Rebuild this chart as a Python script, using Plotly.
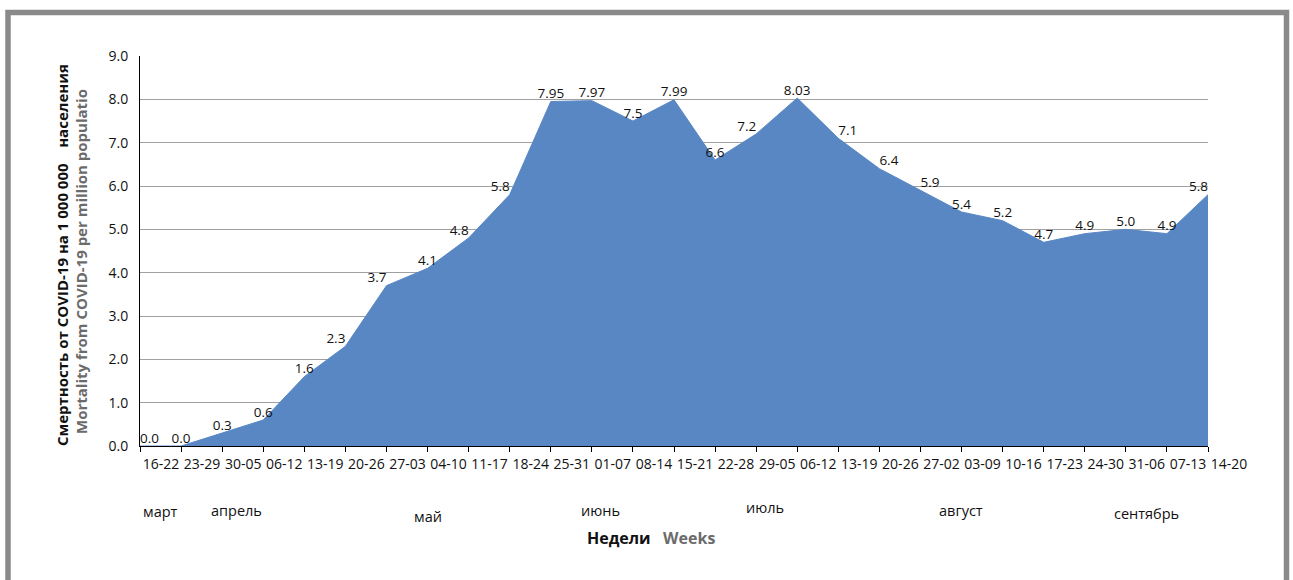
import plotly.graph_objects as go

# ---- data ----
weeks = ["16-22", "23-29", "30-05", "06-12", "13-19", "20-26", "27-03", "04-10",
         "11-17", "18-24", "25-31", "01-07", "08-14", "15-21", "22-28", "29-05",
         "06-12", "13-19", "20-26", "27-02", "03-09", "10-16", "17-23", "24-30",
         "31-06", "07-13", "14-20"]
mortality = [0.0, 0.0, 0.3, 0.6, 1.6, 2.3, 3.7, 4.1, 4.8, 5.8, 7.95, 7.97, 7.5,
             7.99, 6.6, 7.2, 8.03, 7.1, 6.4, 5.9, 5.4, 5.2, 4.7, 4.9, 5.0, 4.9, 5.8]
months = ["март", "апрель", "май", "июнь", "июль", "август", "сентябрь"]

# ---- layout helpers (pixel geometry of the reference) ----
W, H = 1293, 580
PL, PR, PT, PB = 140, 1208, 56, 446          # plot area in px
def px_x(px):
    return (px - PL) / (PR - PL)
def px_y(py):
    return (PB - py) / (PB - PT)

month_pos = [0.49, 2.36, 7.01, 11.22, 15.21, 19.99, 24.51]   # in week-index units
month_ypx = [511, 510, 516, 510, 508, 510, 513]

label_pos = ["top right", "top center", "top center", "top center", "top center",
             "top left", "top left", "top center", "top left", "top left",
             "top center", "top center", "top center", "top center", "top center",
             "top left", "top center", "top right", "top right", "top right",
             "top center", "top center", "top center", "top center", "top center",
             "top center", "top left"]

FONT = "Open Sans"
x_idx = list(range(len(weeks)))

fig = go.Figure()
fig.add_trace(go.Scatter(
    x=x_idx, y=mortality, mode="lines", fill="tozeroy",
    line=dict(color="#5887C4", width=1), fillcolor="#5887C4",
    hoverinfo="skip", showlegend=False))
fig.add_trace(go.Scatter(
    x=x_idx, y=mortality, mode="text",
    text=[f"{v:.2f}" if round(v * 10) != v * 10 else f"{v:.1f}" for v in mortality],
    textposition=label_pos,
    textfont=dict(family=FONT, size=13.5, color="#111111"),
    hoverinfo="skip", showlegend=False, cliponaxis=False))

annotations = []
for m, xp, yp in zip(months, month_pos, month_ypx):
    annotations.append(dict(text=m, x=xp, xref="x", y=px_y(yp), yref="paper",
                            showarrow=False, xanchor="center", yanchor="middle",
                            font=dict(family=FONT, size=14.5, color="#111111")))
annotations.append(dict(
    text="<b>Недели</b>&nbsp;&nbsp; <b><span style='color:#6b6b6b'>Weeks</span></b>",
    x=px_x(651), xref="paper", y=px_y(538), yref="paper", showarrow=False,
    xanchor="center", yanchor="middle",
    font=dict(family=FONT, size=16, color="#111111")))
annotations.append(dict(
    text="<b>Смертность от COVID-19 на 1 000 000&nbsp;&nbsp;&nbsp; населения</b>",
    x=px_x(62), xref="paper", y=px_y(255), yref="paper", showarrow=False,
    textangle=-90, xanchor="center", yanchor="middle",
    font=dict(family=FONT, size=15, color="#111111")))
annotations.append(dict(
    text="<b>Mortality from COVID-19 per million populatio</b>",
    x=px_x(81), xref="paper", y=px_y(262), yref="paper", showarrow=False,
    textangle=-90, xanchor="center", yanchor="middle",
    font=dict(family=FONT, size=15, color="#6b6b6b")))

shapes = [dict(type="rect", xref="paper", yref="paper",
               x0=px_x(8), x1=px_x(1286.5), y0=px_y(600), y1=px_y(12.5),
               line=dict(color="#8a8a8a", width=5.5), fillcolor="rgba(0,0,0,0)",
               layer="below")]

fig.update_layout(
    width=W, height=H,
    margin=dict(l=PL, r=W - PR, t=PT, b=H - PB),
    paper_bgcolor="white", plot_bgcolor="white",
    font=dict(family=FONT, color="#111111"),
    annotations=annotations, shapes=shapes,
    xaxis=dict(range=[0, len(weeks) - 1], tickmode="array", tickvals=x_idx,
               ticktext=weeks, tickangle=0, ticklabelshift=21,
               ticks="outside", ticklen=5, tickcolor="#000000",
               showline=True, linecolor="#000000", linewidth=1,
               showgrid=False, zeroline=False,
               tickfont=dict(family=FONT, size=14, color="#111111")),
    yaxis=dict(range=[0, 9], dtick=1, tickformat=".1f",
               showline=True, linecolor="#000000", linewidth=1,
               showgrid=True, gridcolor="#a0a0a0", gridwidth=1.2,
               zeroline=False, ticks="", ticklabelstandoff=8,
               tickfont=dict(family=FONT, size=14, color="#111111")),
)

fig.write_html("out.html", config={"displayModeBar": False},
               post_script="document.body.style.margin='0';document.body.style.overflow='hidden';")
